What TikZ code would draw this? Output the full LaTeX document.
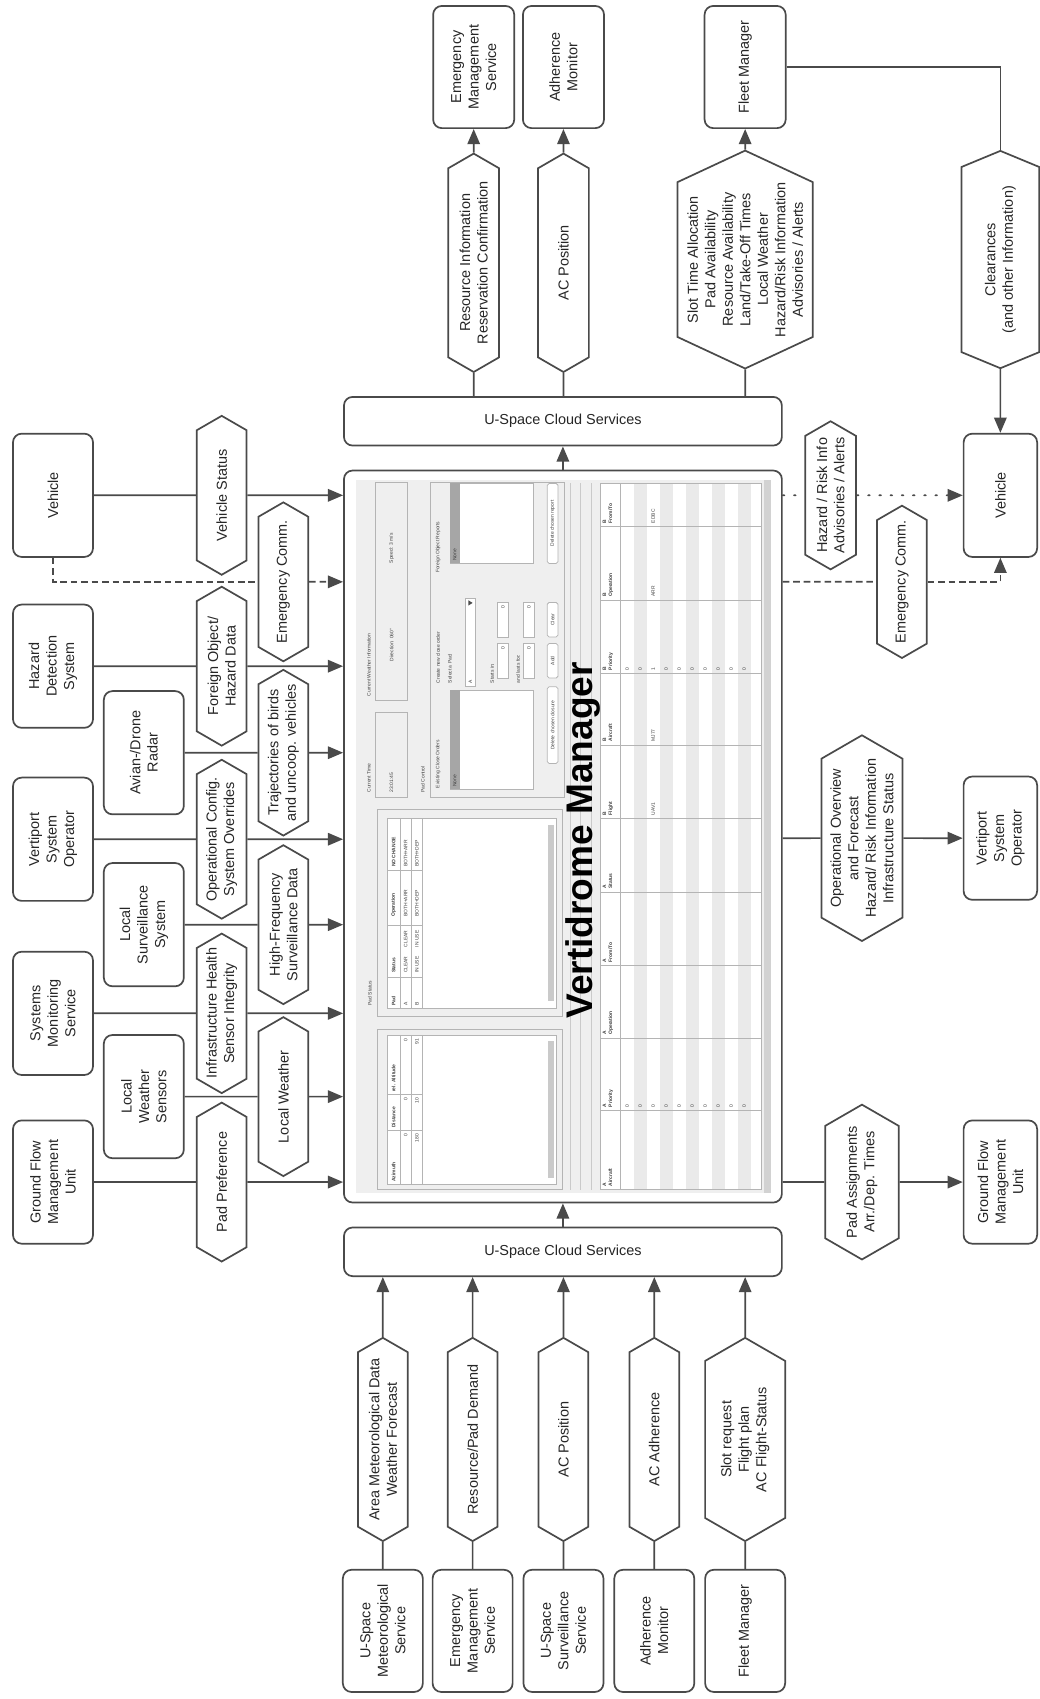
\documentclass[tikz,border=0pt]{standalone}
\usepackage{fontspec}
\setmainfont{Liberation Sans}
\usetikzlibrary{arrows.meta,shapes.symbols}
\newcommand\lbl{\fontsize{7.6}{9.2}\selectfont}
\newcommand\gui{\fontsize{2.6}{3.1}\selectfont}
\definecolor{edge}{HTML}{4A4A4A}
\definecolor{guibg}{HTML}{EFEFEF}
\definecolor{guiln}{HTML}{B4B4B4}
\definecolor{guidk}{HTML}{A6A6A6}
\definecolor{stripe}{HTML}{EAEAEA}

\begin{document}
\begin{tikzpicture}[x=0.02cm, y=-0.02cm,
	blk/.style={draw=edge, line width=0.9pt, rounded corners=0.16cm, fill=white, align=center, font=\lbl, text=black!85, inner sep=1pt, rotate=90, minimum width=2.28cm, minimum height=1.48cm},
	hexa/.style={draw=edge, line width=0.9pt, shape=signal, signal to=east and west, signal pointer angle=120, fill=white, align=center, font=\lbl, text=black!85, inner xsep=0pt, inner ysep=1pt, rotate=90, minimum height=0.92cm, minimum width=2.94cm},
	usbox/.style={draw=edge, line width=0.9pt, rounded corners=0.16cm, fill=white, font=\lbl, text=black!85, minimum width=8.1cm, minimum height=0.9cm},
	link/.style={draw=edge, line width=0.9pt},
	flow/.style={link, -{Triangle[length=2.8mm,width=2.3mm]}},
	dashline/.style={dash pattern=on 3.5pt off 2pt},
	dotline/.style={dash pattern=on 0.9pt off 5pt, line cap=round},
	gtxt/.style={font=\gui, rotate=90, inner sep=0pt, text=black!75}]

	\useasboundingbox (0,0) rectangle (961,1571);

	\node[draw=edge, line width=0.9pt, rounded corners=0.16cm, minimum width=8.1cm, minimum height=13.54cm, inner sep=0pt] (vm) at (520.5,773.5) {};

	\fill[guibg] (329,444) rectangle (713,1103);
	\fill[guiln!60] (706,444) rectangle (713,1103);
	\draw[guiln!70] (527,447) -- (527,1100) (537,447) -- (537,1100) (547,447) -- (547,1100);

	\draw[guiln] (347,446) rectangle (377,648);
	\node[gtxt, anchor=west] at (341,644) {Current Weather Information};
	\node[gtxt, anchor=west] at (362,612) {Direction: 060°};
	\node[gtxt, anchor=west] at (362,521) {Speed: 3 m/s};
	\draw[guiln] (347,659) rectangle (377,737);
	\node[gtxt, anchor=west] at (341,733) {Current Time};
	\node[gtxt, anchor=west] at (362,733) {23:01:45};

	\draw[guiln] (398,446) rectangle (522,737);
	\node[gtxt, anchor=west] at (391,733) {Pad Control};
	\node[gtxt, anchor=west] at (405,729) {Existing Close Orders};
	\draw[guiln, fill=white] (416,638) rectangle (493,730);
	\fill[guidk] (416,638) rectangle (425,730);
	\node[gtxt, anchor=west] at (420.5,728) {None};
	\node[gtxt, anchor=west] at (405,632) {Create new close order};
	\node[gtxt, anchor=west] at (416,632) {Select a Pad:};
	\draw[guiln, fill=white] (430,553) rectangle (440,635);
	\node[gtxt, anchor=west] at (435,632) {A};
	\fill[black!70] (433,560) -- (433,555) -- (437,557.5) -- cycle;
	\node[gtxt, anchor=west] at (455,632) {Starts in:};
	\node[gtxt, anchor=west] at (479,632) {and lasts for:};
	\foreach \gx in {460,484}
		\foreach \gy in {557,595} {
			\draw[guiln, fill=white] (\gx,\gy) rectangle ({\gx+10},{\gy+32});
			\node[gtxt, anchor=east] at ({\gx+5},{\gy+3}) {0};
		}
	\node[gtxt, anchor=west] at (405,530) {Foreign Object Reports};
	\draw[guiln, fill=white] (416,447) rectangle (493,521);
	\fill[guidk] (416,447) rectangle (425,521);
	\node[gtxt, anchor=west] at (420.5,519) {None};
	\foreach \ya/\yb/\bt in {635/706/Delete chosen closure, 595/627/Add, 557/589/Clear, 447/521/Delete chosen report} {
		\draw[guiln, fill=white, rounded corners=1pt] (506,\ya) rectangle (516,\yb);
		\node[gtxt] at (511,{(\ya+\yb)/2}) {\bt};
	}

	\draw[guiln] (349,748) rectangle (520,940);
	\node[gtxt, anchor=west] at (342,930) {Pad Status};
	\draw[guiln, fill=white] (358,757) rectangle (514,932);
	\fill[guiln!70] (507,763) rectangle (512,926);
	\draw[guiln] (370,757) -- (370,932) (380,757) -- (380,932) (391,757) -- (391,932);
	\draw[guiln] (358,904) -- (391,904) (358,856) -- (391,856) (358,805) -- (391,805);
	\foreach \ty/\tt in {930/Pad, 900/Status, 848/Operation, 802/NO CHANGE}
		\node[gtxt, anchor=west, font=\gui\bfseries] at (364,\ty) {\tt};
	\foreach \tx/\ta/\tb/\tc in {375/A/CLEAR/BOTH+ARR, 385.5/B/IN USE/BOTH+DEP} {
		\node[gtxt, anchor=west] at (\tx,930) {\ta};
		\node[gtxt, anchor=west] at (\tx,900) {\tb};
		\node[gtxt, anchor=west] at (\tx,876) {\tb};
		\node[gtxt, anchor=west] at (\tx,848) {\tc};
		\node[gtxt, anchor=west] at (\tx,802) {\tc};
	}

	\draw[guiln] (349,952) rectangle (520,1100);
	\draw[guiln, fill=white] (358,957) rectangle (514,1095);
	\fill[guiln!70] (507,963) rectangle (512,1089);
	\draw[guiln] (370,957) -- (370,1095) (380,957) -- (380,1095) (391,957) -- (391,1095);
	\draw[guiln] (358,1045) -- (391,1045) (358,1012) -- (391,1012);
	\foreach \ty/\tt in {1093/Azimuth, 1043/Distance, 1010/rel. Altitude}
		\node[gtxt, anchor=west, font=\gui\bfseries] at (364,\ty) {\tt};
	\foreach \tx/\ta/\tb/\tc in {375/0/0/0, 385.5/180/10/91} {
		\node[gtxt, anchor=east] at (\tx,1048) {\ta};
		\node[gtxt, anchor=east] at (\tx,1015) {\tb};
		\node[gtxt, anchor=east] at (\tx,960) {\tc};
	}

	\fill[white] (555,447) rectangle (704,1100);
	\foreach \r in {1,3,5,7,9}
		\fill[stripe] ({574+12*\r},447) rectangle ({586+12*\r},1100);
	\draw[guiln] (555,447) rectangle (704,1100);
	\draw[guiln] (574,447) -- (574,1100);
	\foreach \cy in {487,555,623,689,757,825,893,960,1027}
		\draw[guiln] (555,\cy) -- (704,\cy);
	\foreach \cy/\ct in {1097/{A\\Aircraft}, 1024/{A\\Priority}, 957/{A\\Operation}, 890/{A\\From/To}, 822/{A\\Status}, 754/{B\\Flight}, 686/{B\\Aircraft}, 620/{B\\Priority}, 552/{B\\Operation}, 484/{B\\From/To}}
		\node[gtxt, anchor=north west, align=left, font=\gui\bfseries] at (557,\cy) {\ct};
	\foreach \r/\v in {0/0, 1/0, 2/1, 3/0, 4/0, 5/0, 6/0, 7/0, 8/0, 9/0} {
		\node[gtxt, anchor=west] at ({580+12*\r},1024) {0};
		\node[gtxt, anchor=west] at ({580+12*\r},620) {\v};
	}
	\node[gtxt, anchor=west] at (604,754) {UAV1};
	\node[gtxt, anchor=west] at (604,686) {MJ77};
	\node[gtxt, anchor=west] at (604,552) {ARR};
	\node[gtxt, anchor=west] at (604,484) {EDBC};

	\node[rotate=90, anchor=base, font=\bfseries\fontsize{19.5}{22}\selectfont] (title) at (548,777) {Vertidrome Manager};

	\node[blk] (vehL) at (49,458) {Vehicle};
	\node[blk] (hds) at (49,616) {Hazard\\Detection\\System};
	\node[blk] (vsoL) at (49,776) {Vertiport\\System\\Operator};
	\node[blk] (sms) at (49,937) {Systems\\Monitoring\\Service};
	\node[blk] (gfmL) at (49,1093) {Ground Flow\\Management\\Unit};
	\node[blk] (radar) at (133,696) {Avian-/Drone\\Radar};
	\node[blk] (lss) at (133,855) {Local\\Surveillance\\System};
	\node[blk] (lws) at (133,1014) {Local\\Weather\\Sensors};

	\node[hexa] (vstat) at (205,458) {Vehicle Status};
	\node[hexa] (fod) at (205,616) {Foreign Object/\\Hazard Data};
	\node[hexa] (opcfg) at (205,776) {Operational Config.\\System Overrides};
	\node[hexa] (infra) at (205,937) {Infrastructure Health\\Sensor Integrity};
	\node[hexa] (padpref) at (205,1093) {Pad Preference};
	\node[hexa] (ecL) at (262,538) {Emergency Comm.};
	\node[hexa] (traj) at (262,696) {Trajectories of birds\\and uncoop. vehicles};
	\node[hexa] (hfsd) at (262,855) {High-Frequency\\Surveillance Data};
	\node[hexa] (lwx) at (262,1014) {Local Weather};

	\node[hexa, minimum width=2.74cm, minimum height=0.94cm] (hazR) at (768,458) {Hazard / Risk Info\\Advisories / Alerts};
	\node[hexa, minimum width=2.72cm] (ecR) at (834,538) {Emergency Comm.};
	\node[hexa, minimum width=3.68cm, minimum height=1.5cm] (opov) at (797,775) {Operational Overview\\and Forecast\\Hazard/ Risk Information\\Infrastructure Status};
	\node[hexa, minimum width=2.7cm, minimum height=1.36cm] (padas) at (797,1093) {Pad Assignments\\Arr./Dep. Times};
	\node[blk, minimum height=1.36cm] (vehR) at (925,458) {Vehicle};
	\node[blk, minimum height=1.36cm] (vsoR) at (925,775) {Vertiport\\System\\Operator};
	\node[blk, minimum height=1.36cm] (gfmR) at (925,1093) {Ground Flow\\Management\\Unit};

	\node[blk, minimum width=2.26cm, minimum height=1.5cm] (emsT) at (438,62) {Emergency\\Management\\Service};
	\node[blk, minimum width=2.26cm, minimum height=1.5cm] (amT) at (521,62) {Adherence\\Monitor};
	\node[blk, minimum width=2.26cm, minimum height=1.5cm] (fmT) at (689,62) {Fleet Manager};
	\node[hexa, minimum width=4.04cm, minimum height=0.94cm] (resinf) at (438,243) {Resource Information\\Reservation Confirmation};
	\node[hexa, minimum width=4.04cm, minimum height=0.94cm] (acposT) at (521,243) {AC Position};
	\node[hexa, minimum width=3.98cm, minimum height=2.5cm, signal pointer angle=130] (slot) at (689,240) {Slot Time Allocation\\Pad Availability\\Resource Availability\\Land/Take-Off Times\\Local Weather\\Hazard/Risk Information\\Advisories / Alerts};
	\node[hexa, minimum width=4.02cm, minimum height=1.44cm, signal pointer angle=135] (clr) at (925,240) {Clearances\\(and other Information)};

	\node[usbox] (usT) at (520.5,389.5) {U-Space Cloud Services};
	\node[usbox] (usB) at (520.5,1157.5) {U-Space Cloud Services};

	\node[hexa, minimum width=3.76cm] (metB) at (354,1331) {Area Meteorological Data\\Weather Forecast};
	\node[hexa, minimum width=3.76cm] (rpdB) at (437,1331) {Resource/Pad Demand};
	\node[hexa, minimum width=3.76cm] (acposB) at (521,1331) {AC Position};
	\node[hexa, minimum width=3.76cm] (acadhB) at (605,1331) {AC Adherence};
	\node[hexa, minimum width=3.76cm, minimum height=1.48cm] (slotB) at (689,1331) {Slot request\\Flight plan\\AC Flight-Status};
	\node[blk, minimum width=2.26cm] (umsB) at (354,1508) {U-Space\\Meteorological\\Service};
	\node[blk, minimum width=2.26cm] (emsB) at (437,1508) {Emergency\\Management\\Service};
	\node[blk, minimum width=2.26cm] (ussB) at (521,1508) {U-Space\\Surveillance\\Service};
	\node[blk, minimum width=2.26cm] (amB) at (605,1508) {Adherence\\Monitor};
	\node[blk, minimum width=2.26cm] (fmB) at (689,1508) {Fleet Manager};

	\foreach \b/\h in {vehL/vstat, hds/fod, vsoL/opcfg, sms/infra, gfmL/padpref, radar/traj, lss/hfsd, lws/lwx} {
		\draw[link] (\b) -- (\h);
		\draw[flow] (\h) -- (\h -| vm.west);
	}
	\draw[link, dashline] (vehL) |- (ecL);
	\draw[flow, dashline] (ecL) -- (ecL -| vm.west);

	\foreach \h/\b in {resinf/emsT, acposT/amT, slot/fmT} {
		\draw[link] (\h |- usT.north) -- (\h);
		\draw[flow] (\h) -- (\b);
	}
	\draw[link] (fmT) -| (clr);
	\draw[flow] (clr) -- (vehR);

	\draw[link, dotline] (hazR -| vm.east) -- (hazR);
	\draw[flow, dotline] (hazR) -- (vehR);
	\draw[link, dashline] (ecR -| vm.east) -- (ecR);
	\draw[flow, dashline] (ecR) -| (vehR);
	\draw[link] (opov -| vm.east) -- (opov);
	\draw[flow] (opov) -- (vsoR);
	\draw[link] (padas -| vm.east) -- (padas);
	\draw[flow] (padas) -- (gfmR);

	\foreach \h/\b in {metB/umsB, rpdB/emsB, acposB/ussB, acadhB/amB, slotB/fmB} {
		\draw[link] (\b) -- (\h);
		\draw[flow] (\h) -- (\h |- usB.south);
	}
	\draw[flow] (vm) -- (usT);
	\draw[flow] (usB) -- (vm);
\end{tikzpicture}
\end{document}
